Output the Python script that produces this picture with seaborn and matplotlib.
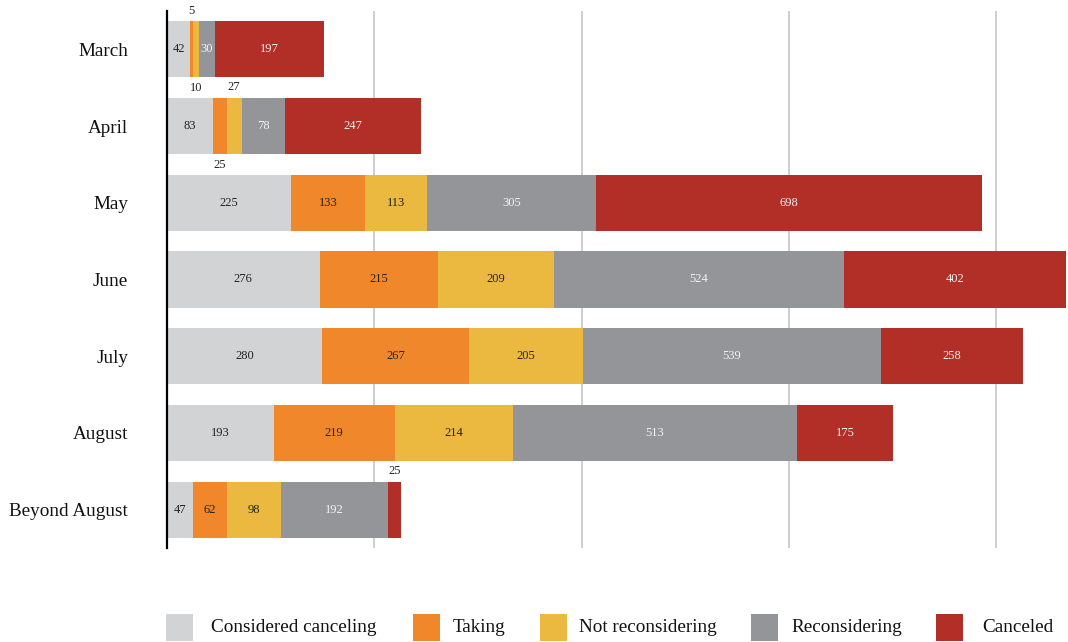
import numpy as np
import pandas as pd
import matplotlib
matplotlib.use("Agg")
import matplotlib.pyplot as plt
from matplotlib.patches import Rectangle
import seaborn as sns

# Responses by month, split by status
months = ["March", "April", "May", "June", "July", "August", "Beyond August"]
considered_canceling = [42, 83, 225, 276, 280, 193, 47]
taking = [5, 25, 133, 215, 267, 219, 62]
not_reconsidering = [10, 27, 113, 209, 205, 214, 98]
reconsidering = [30, 78, 305, 524, 539, 513, 192]
canceled = [197, 247, 698, 402, 258, 175, 25]

series_names = ["Considered canceling", "Taking", "Not reconsidering",
                "Reconsidering", "Canceled"]
series_values = [considered_canceling, taking, not_reconsidering,
                 reconsidering, canceled]
colors = ["#d2d3d5", "#f0882b", "#ecb940", "#949598", "#b22f27"]
label_colors = ["#222222", "#222222", "#222222", "#f2f2f2", "#f2f2f2"]

# Narrow segments get their label outside the bar
outside = {("March", "Taking"): "above",
           ("March", "Not reconsidering"): "below",
           ("April", "Taking"): "below",
           ("April", "Not reconsidering"): "above",
           ("Beyond August", "Canceled"): "above"}

sns.set_theme(style="white")
plt.rcParams["font.family"] = ["Liberation Serif", "DejaVu Serif"]

W, H = 1068, 642
fig = plt.figure(figsize=(W / 100, H / 100), dpi=100)
ax = fig.add_axes([167 / W, 1 - 548 / H, 899 / W, 537 / H])

vals = np.array(series_values, dtype=float)
cum = np.cumsum(vals, axis=0)

# Draw cumulative totals from the outermost layer inward
for i in range(len(series_names) - 1, -1, -1):
    df = pd.DataFrame({"month": months, "total": cum[i]})
    sns.barplot(data=df, x="total", y="month", orient="h", color=colors[i],
                saturation=1, width=0.73, linewidth=0, ax=ax, zorder=2)

for j, m in enumerate(months):
    for i, name in enumerate(series_names):
        v = vals[i, j]
        center = cum[i, j] - v / 2
        place = outside.get((m, name))
        if place is None:
            ax.text(center, j, f"{int(v)}", ha="center", va="center",
                    fontsize=9, color=label_colors[i], zorder=4)
        else:
            dy = -0.365 - 0.14 if place == "above" else 0.365 + 0.14
            ax.text(center, j + dy, f"{int(v)}", ha="center", va="center",
                    fontsize=9, color="#222222", zorder=4, clip_on=False)

total_max = cum[-1].max()
ax.set_xlim(0, total_max)
ax.set_ylim(len(months) - 0.5, -0.5)
ax.set_xticks([375, 750, 1125, 1500])
ax.set_xticklabels([])
ax.grid(axis="x", color="#c6c6c6", linewidth=1.2, zorder=0)
ax.grid(axis="y", visible=False)
ax.set_axisbelow(True)
ax.set_xlabel("")
ax.set_ylabel("")
for s in ["top", "right", "bottom"]:
    ax.spines[s].set_visible(False)
ax.spines["left"].set_color("black")
ax.spines["left"].set_linewidth(1.6)
ax.spines["left"].set_zorder(5)
ax.tick_params(axis="y", length=0, pad=28, labelsize=13.8, labelcolor="#111111")
ax.tick_params(axis="x", length=0)

# Legend row along the bottom edge
swatch_left = [166, 413, 540, 751, 936]
text_left = [211, 453, 579, 791, 982]
sw = 27
row_center = 627
for name, c, xs, xt in zip(series_names, colors, swatch_left, text_left):
    fig.add_artist(Rectangle((xs / W, 1 - (row_center + sw / 2) / H),
                             sw / W, sw / H, transform=fig.transFigure,
                             facecolor=c, edgecolor="none"))
    fig.text(xt / W, 1 - row_center / H, name, ha="left", va="center",
             fontsize=13.8, color="#111111")

fig.savefig("out.png", dpi=100)
